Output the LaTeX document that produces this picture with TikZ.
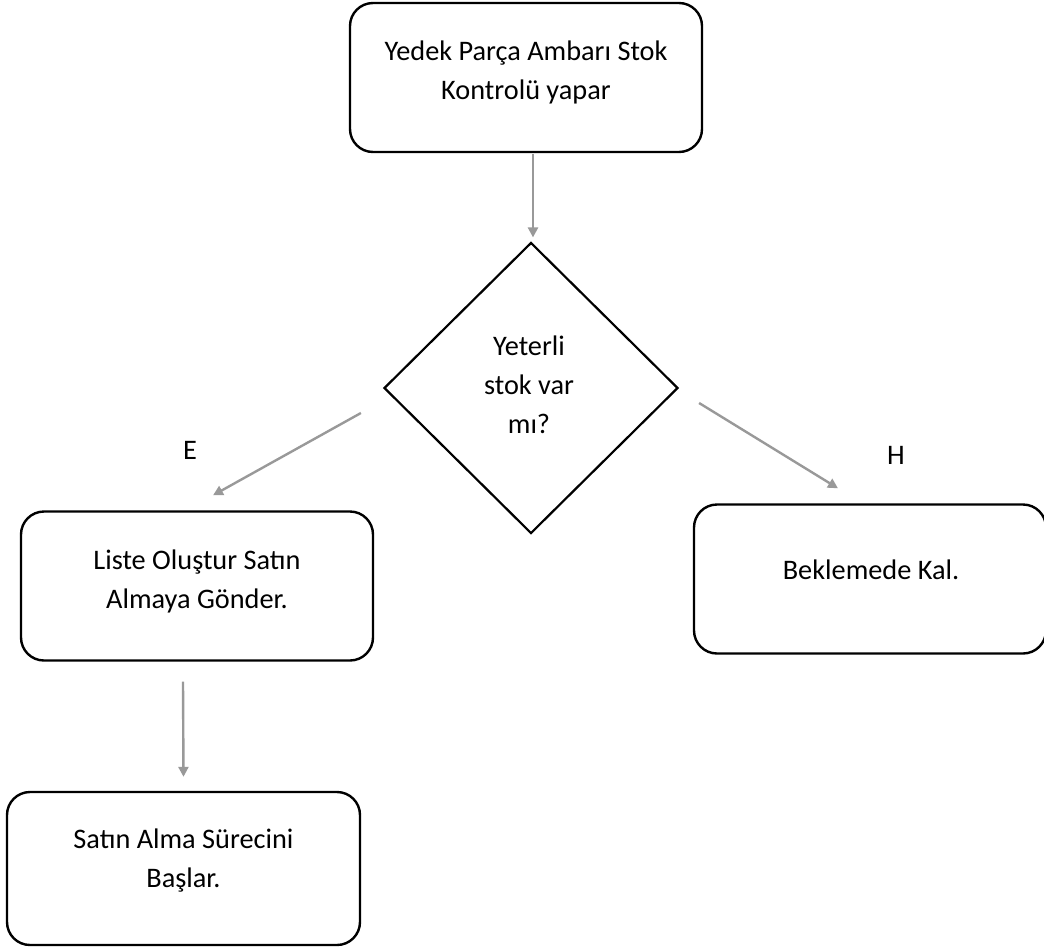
\documentclass[tikz,border=0pt]{standalone}
\usepackage{fontspec}
\setmainfont{Carlito}
\usetikzlibrary{positioning}
\usetikzlibrary{shapes.geometric}
\usetikzlibrary{arrows.meta}

\begin{document}
\begin{tikzpicture}[x=1pt,y=-1pt,
        kutu/.style={draw, line width=2.4pt, rounded corners=23pt, minimum width=352pt, minimum height=149pt, inner sep=0pt},
        yazi/.style={align=center, font=\fontsize{28.3}{39}\selectfont, inner sep=0pt},
        ok/.style={draw=black!40, line width=2.4pt, -{Triangle[length=10pt,width=10pt]}}]
        \useasboundingbox (0,0) rectangle (1044,951);
        % kutular
        \node[kutu] (stok) at (526,77.5) {};
        \node[kutu] (liste) at (197,586) {};
        \node[kutu] (bekle) at (870,579) {};
        \node[kutu, minimum width=353pt, minimum height=153pt] (satin) at (183.5,868.5) {};
        \node[diamond, draw, line width=2.2pt, inner sep=0pt, minimum width=294pt, minimum height=291pt] (karar) at (531,388) {};
        % yazilar
        \node[yazi] (stoky) at (526,72) {Yedek Parça Ambarı Stok\\Kontrolü yapar};
        \node[yazi] (listey) at (197,581) {Liste Oluştur Satın\\Almaya Gönder.};
        \node[yazi] (bekley) at (871,569.5) {Beklemede Kal.};
        \node[yazi] (satiny) at (183.5,861) {Satın Alma Sürecini\\Başlar.};
        \node[yazi] (karary) at (529,384.5) {Yeterli\\stok var\\mı?};
        \node[yazi] (e) at (190,450) {E};
        \node[yazi] (h) at (896,455) {H};
        % oklar
        \draw[ok] ([shift={(7,1)}]stok.south) -- ([shift={(2,-4)}]karar.north);
        \draw[ok] ([shift={(-22,25)}]karar.west) -- ([shift={(16,-15)}]liste.north);
        \draw[ok] ([shift={(20,15)}]karar.east) -- ([shift={(-32,-15)}]bekle.north);
        \draw[ok] ([shift={(-14,20)}]liste.south) -- ([shift={(0,-14)}]satin.north);
    \end{tikzpicture}
\end{document}
